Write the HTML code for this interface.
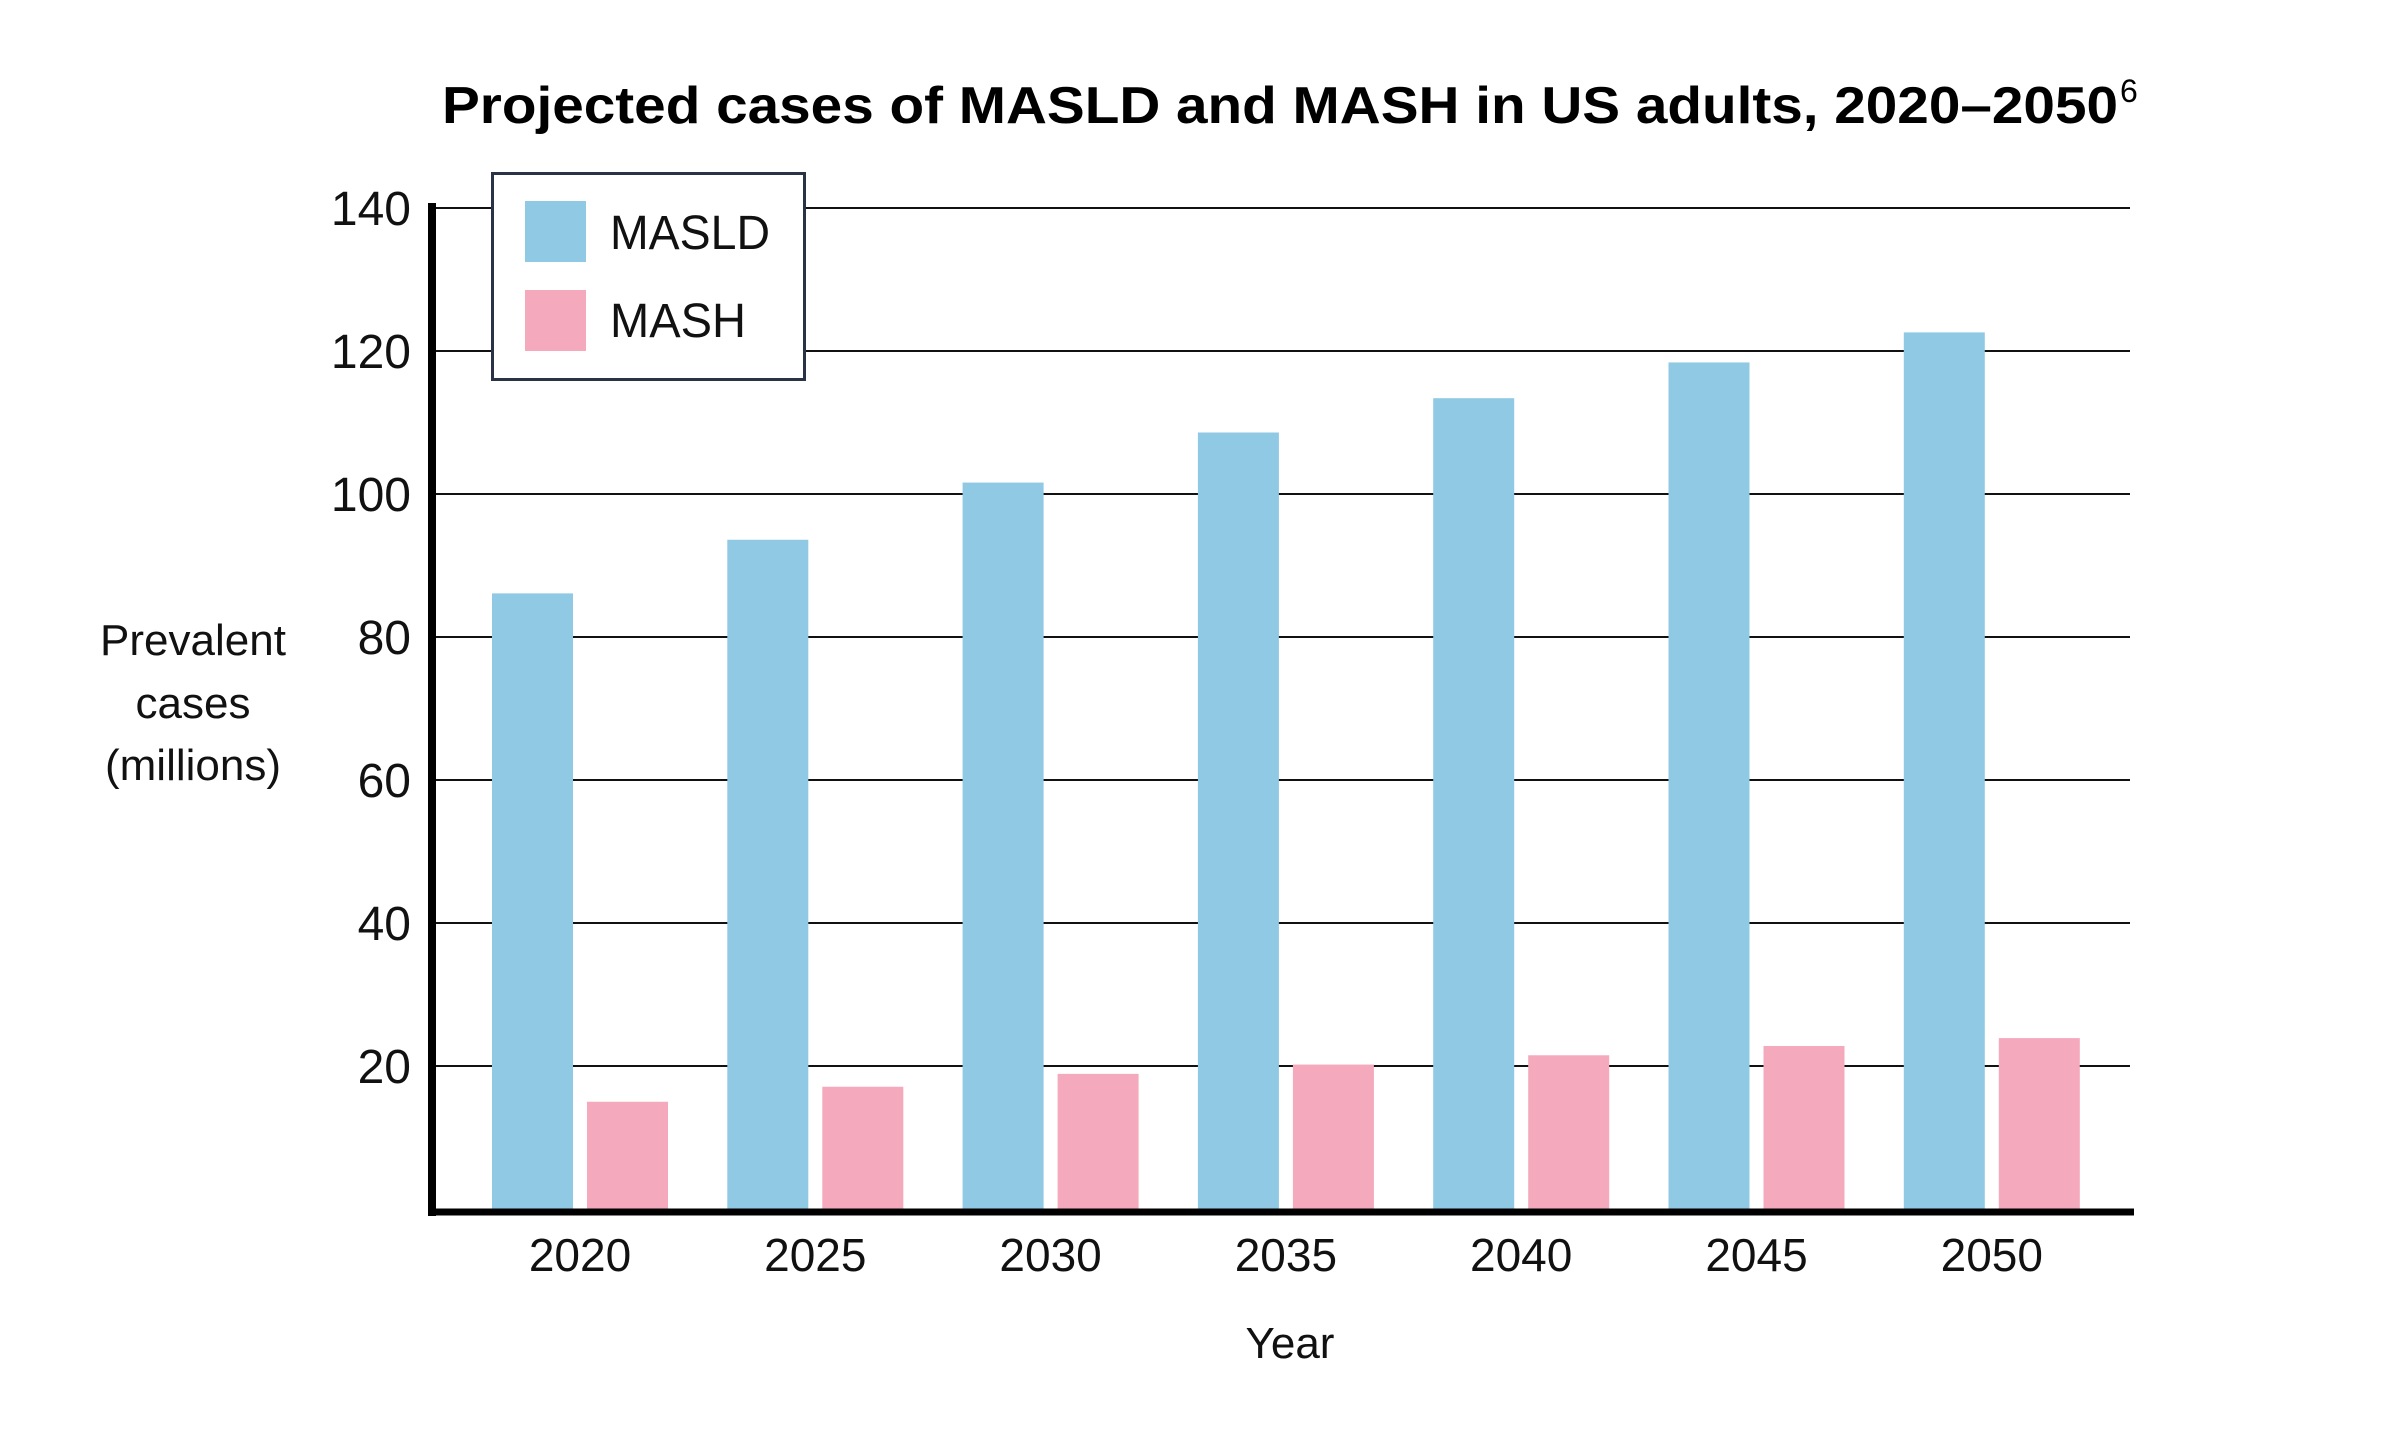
<!DOCTYPE html>
<html><head><meta charset="utf-8"><style>
html,body{margin:0;padding:0;background:#fff;}
svg{display:block;font-family:"Liberation Sans",sans-serif;}
</style></head><body>
<svg id="chart" width="2400" height="1442" viewBox="0 0 2400 1442" xmlns="http://www.w3.org/2000/svg">
<rect width="2400" height="1442" fill="#fff"/>
<text x="442" y="123" font-size="52" font-weight="bold" textLength="1676" lengthAdjust="spacingAndGlyphs">Projected cases of MASLD and MASH in US adults, 2020–2050</text>
<text x="2120" y="102" font-size="32">6</text>
<g id="grid"></g>
<g id="bars"></g>
<g id="ylabels"></g>
<g id="xlabels"></g>
<line x1="432" y1="203" x2="432" y2="1216" stroke="#000" stroke-width="8"/>
<line x1="428" y1="1212" x2="2134" y2="1212" stroke="#000" stroke-width="7"/>
<g font-size="44" text-anchor="middle" fill="#111">
<text x="193" y="655">Prevalent</text><text x="193" y="718">cases</text><text x="193" y="780">(millions)</text>
</g>
<text x="1290" y="1358" font-size="44" text-anchor="middle" fill="#111">Year</text>
<g>
<rect x="492.5" y="173.5" width="312" height="206" fill="#fff" stroke="#2a3345" stroke-width="3"/>
<g><rect x="525" y="201" width="61" height="61" fill="#90c9e3"/><text x="610" y="249" font-size="48" fill="#111" textLength="160" lengthAdjust="spacingAndGlyphs">MASLD</text></g>
<g><rect x="525" y="290" width="61" height="61" fill="#f4a9bc"/><text x="610" y="337" font-size="48" fill="#111" textLength="136" lengthAdjust="spacingAndGlyphs">MASH</text></g>
</g>
</svg>
<script>
const categories = ["2020","2025","2030","2035","2040","2045","2050"];
const masld = [86.1, 93.6, 101.6, 108.6, 113.4, 118.4, 122.6];
const mash = [15.0, 17.1, 18.9, 20.2, 21.5, 22.8, 23.9];
const yTicks = [20, 40, 60, 80, 100, 120, 140];

const NS = "http://www.w3.org/2000/svg";
const y0 = 1209, pxPerUnit = 7.15;
function yScale(v){ return y0 - v * pxPerUnit; }
function xCenter(i){ return 580 + i * 235.3; }
function mk(tag, attrs, parent){ const e=document.createElementNS(NS,tag); for(const k in attrs) e.setAttribute(k,attrs[k]); parent.appendChild(e); return e; }

const grid=document.getElementById('grid'), ylab=document.getElementById('ylabels');
yTicks.forEach(t=>{
  const l=mk('line',{x1:432,x2:2130,y1:yScale(t),y2:yScale(t),stroke:'#111','stroke-width':2},grid);
  
  
  const tx=mk('text',{x:411,y:yScale(t)+17,'font-size':48,'text-anchor':'end',fill:'#111'},ylab);
  tx.textContent=t;
  
  
});
const bars=document.getElementById('bars'), xlab=document.getElementById('xlabels');
categories.forEach((c,i)=>{
  const cx=xCenter(i);
  const b1=mk('rect',{x:cx-88,y:yScale(masld[i]),width:81,height:y0-yScale(masld[i]),fill:'#90c9e3'},bars);
  
  
  const b2=mk('rect',{x:cx+7,y:yScale(mash[i]),width:81,height:y0-yScale(mash[i]),fill:'#f4a9bc'},bars);
  
  
  const t=mk('text',{x:cx,y:1271,'font-size':46,'text-anchor':'middle',fill:'#111'},xlab);
  t.textContent=c;
  
  
});
</script>
</body></html>
